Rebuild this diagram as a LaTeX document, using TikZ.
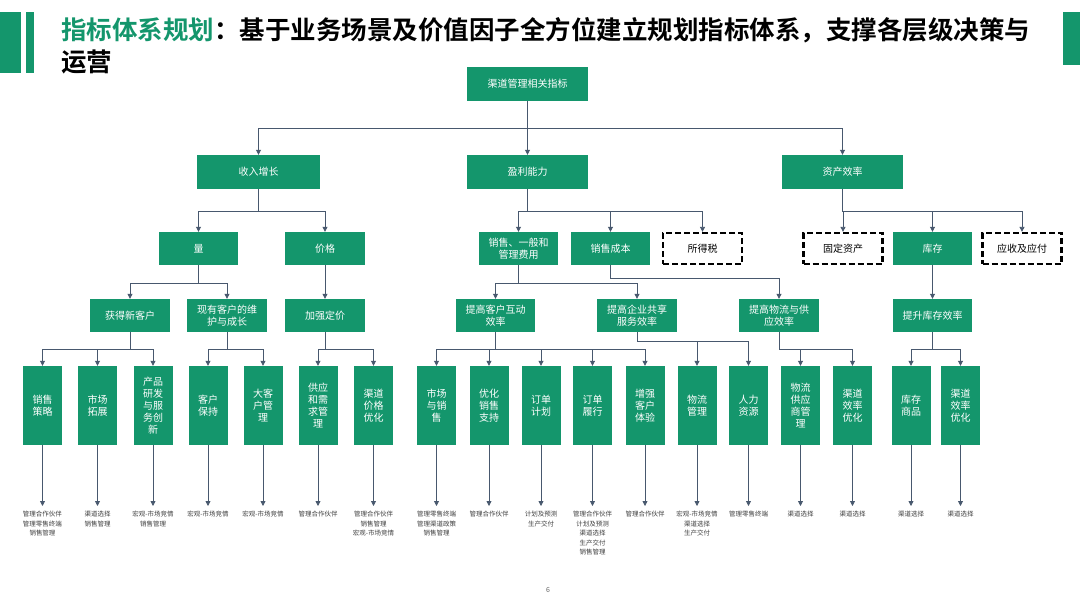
\documentclass[tikz,border=0pt]{standalone}
\usepackage{fontspec}
\setmainfont{Noto Sans CJK SC}[BoldFont={Noto Sans CJK SC Bold}]
\usetikzlibrary{arrows.meta}
\definecolor{gr}{RGB}{20,150,108}
\definecolor{ln}{RGB}{72,88,110}
\begin{document}
\begin{tikzpicture}[x=1pt,y=-1pt,
 gbox/.style={fill=gr, text=white, font=\fontsize{10}{12}\selectfont, align=center, inner sep=0pt},
 topbox/.style={gbox, minimum width=121pt, minimum height=34pt},
 lvlbox/.style={gbox, minimum width=80pt, minimum height=33pt},
 dbox/.style={draw=black, line width=2.3pt, dash pattern=on 6pt off 3pt, fill=white, text=black, font=\fontsize{10}{12}\selectfont, align=center, inner sep=0pt, minimum width=79pt, minimum height=31pt},
 leaf/.style={gbox, minimum width=39pt, minimum height=79pt},
 conn/.style={draw=ln, line width=0.8pt, -{Triangle[width=5pt,length=5pt]}},
 note/.style={font=\fontsize{6.5}{9.5}\selectfont, text=black!75, align=center, anchor=north, inner sep=1pt}
]
\useasboundingbox[fill=white] (0,0) rectangle (1080,608);
% header
\fill[gr] (0,12) rectangle (21,73);
\fill[gr] (26,12) rectangle (34,73);
\fill[gr] (1063,12) rectangle (1080,65);
\node[anchor=west, inner sep=0pt, font=\fontsize{25.5}{30}\selectfont\bfseries] (title) at (61,30) {\textcolor{gr}{指标体系规划}：基于业务场景及价值因子全方位建立规划指标体系，支撑各层级决策与};
\node[anchor=west, inner sep=0pt, font=\fontsize{25.5}{30}\selectfont\bfseries] (title2) at (61,62) {运营};

% level coordinates
\coordinate (y1) at (0,128);
\coordinate (y2) at (0,211);
\coordinate (y3) at (0,283);
\coordinate (y3b) at (0,278);
\coordinate (y4) at (0,349);
\coordinate (y4b) at (0,341);

% nodes
\node[topbox] (root) at (527.5,84) {渠道管理相关指标};
\node[topbox, minimum width=123pt] (srzz) at (258.5,172) {收入增长};
\node[topbox] (ylnl) at (527.5,172) {盈利能力};
\node[topbox] (zcxl) at (842.5,172) {资产效率};

\node[lvlbox, minimum width=79pt] (liang) at (198.5,248.5) {量};
\node[lvlbox] (jiage) at (325,248.5) {价格};
\node[lvlbox, minimum width=79pt] (xsyb) at (518.5,248.5) {销售、一般和\\管理费用};
\node[lvlbox, minimum width=79pt] (xscb) at (610.5,248.5) {销售成本};
\node[dbox] (sds) at (702.5,248.5) {所得税};
\node[dbox] (gdzc) at (843,248.5) {固定资产};
\node[lvlbox, minimum width=79pt] (kc) at (932.5,248.5) {库存};
\node[dbox] (ysyf) at (1022,248.5) {应收及应付};

\node[lvlbox] (hdxkh) at (130,315.5) {获得新客户};
\node[lvlbox] (xykh) at (227,315.5) {现有客户的维\\护与成长};
\node[lvlbox] (jqdj) at (325,315.5) {加强定价};
\node[lvlbox, minimum width=79pt] (tgkh) at (495.5,315.5) {提高客户互动\\效率};
\node[lvlbox] (tgqy) at (637,315.5) {提高企业共享\\服务效率};
\node[lvlbox] (tgwl) at (779,315.5) {提高物流与供\\应效率};
\node[lvlbox, minimum width=79pt] (tskc) at (932.5,315.5) {提升库存效率};

% leaves
\node[leaf] (L1) at (42.5,405.5) {销售\\策略};
\node[leaf] (L2) at (97.5,405.5) {市场\\拓展};
\node[leaf] (L3) at (153,405.5) {产品\\研发\\与服\\务创\\新};
\node[leaf] (L4) at (208,405.5) {客户\\保持};
\node[leaf] (L5) at (263,405.5) {大客\\户管\\理};
\node[leaf] (L6) at (318,405.5) {供应\\和需\\求管\\理};
\node[leaf] (L7) at (373.5,405.5) {渠道\\价格\\优化};
\node[leaf] (L8) at (436.5,405.5) {市场\\与销\\售};
\node[leaf] (L9) at (489,405.5) {优化\\销售\\支持};
\node[leaf] (L10) at (541,405.5) {订单\\计划};
\node[leaf] (L11) at (592.5,405.5) {订单\\履行};
\node[leaf] (L12) at (645,405.5) {增强\\客户\\体验};
\node[leaf] (L13) at (697,405.5) {物流\\管理};
\node[leaf] (L14) at (748.5,405.5) {人力\\资源};
\node[leaf] (L15) at (800.5,405.5) {物流\\供应\\商管\\理};
\node[leaf] (L16) at (852.5,405.5) {渠道\\效率\\优化};
\node[leaf] (L17) at (911,405.5) {库存\\商品};
\node[leaf] (L18) at (960.5,405.5) {渠道\\效率\\优化};

% notes
\node[note] (t1) at (42.5,510) {管理合作伙伴\\管理零售终端\\销售管理};
\node[note] (t2) at (97.5,510) {渠道选择\\销售管理};
\node[note] (t3) at (153,510) {宏观-市场竞情\\销售管理};
\node[note] (t4) at (208,510) {宏观-市场竞情};
\node[note] (t5) at (263,510) {宏观-市场竞情};
\node[note] (t6) at (318,510) {管理合作伙伴};
\node[note] (t7) at (373.5,510) {管理合作伙伴\\销售管理\\宏观-市场竞情};
\node[note] (t8) at (436.5,510) {管理零售终端\\管理渠道政策\\销售管理};
\node[note] (t9) at (489,510) {管理合作伙伴};
\node[note] (t10) at (541,510) {计划及预测\\生产交付};
\node[note] (t11) at (592.5,510) {管理合作伙伴\\计划及预测\\渠道选择\\生产交付\\销售管理};
\node[note] (t12) at (645,510) {管理合作伙伴};
\node[note] (t13) at (697,510) {宏观-市场竞情\\渠道选择\\生产交付};
\node[note] (t14) at (748.5,510) {管理零售终端};
\node[note] (t15) at (800.5,510) {渠道选择};
\node[note] (t16) at (852.5,510) {渠道选择};
\node[note] (t17) at (911,510) {渠道选择};
\node[note] (t18) at (960.5,510) {渠道选择};

\node[font=\fontsize{7}{8}\selectfont, text=black!60] (pg) at (548,590) {6};

% connectors
\draw[conn] (root.south) -- (ylnl.north);
\foreach \c in {srzz,zcxl} \draw[conn] (root.south) -- (root.south |- y1) -| (\c.north);
\foreach \c in {liang,jiage} \draw[conn] (srzz.south) -- (srzz.south |- y2) -| (\c.north);
\foreach \c in {xsyb,xscb,sds} \draw[conn] (ylnl.south) -- (ylnl.south |- y2) -| (\c.north);
\foreach \c in {gdzc,kc,ysyf} \draw[conn] (zcxl.south) -- (zcxl.south |- y2) -| (\c.north);
\foreach \c in {hdxkh,xykh} \draw[conn] (liang.south) -- (liang.south |- y3) -| (\c.north);
\draw[conn] (jiage.south) -- (jqdj.north);
\foreach \c in {tgkh,tgqy} \draw[conn] (xsyb.south) -- (xsyb.south |- y3) -| (\c.north);
\draw[conn] (xscb.south) -- (xscb.south |- y3b) -| (tgwl.north);
\draw[conn] (kc.south) -- (tskc.north);
\foreach \c in {L1,L2,L3} \draw[conn] (hdxkh.south) -- (hdxkh.south |- y4) -| (\c.north);
\foreach \c in {L4,L5} \draw[conn] (xykh.south) -- (xykh.south |- y4) -| (\c.north);
\foreach \c in {L6,L7} \draw[conn] (jqdj.south) -- (jqdj.south |- y4) -| (\c.north);
\foreach \c in {L8,L9,L10,L11,L12} \draw[conn] (tgkh.south) -- (tgkh.south |- y4) -| (\c.north);
\foreach \c in {L13,L14} \draw[conn] (tgqy.south) -- (tgqy.south |- y4b) -| (\c.north);
\foreach \c in {L15,L16} \draw[conn] (tgwl.south) -- (tgwl.south |- y4) -| (\c.north);
\foreach \c in {L17,L18} \draw[conn] (tskc.south) -- (tskc.south |- y4) -| (\c.north);
\foreach \i in {1,...,18} \draw[conn, shorten >=4pt] (L\i.south) -- (t\i.north);
\end{tikzpicture}
\end{document}
